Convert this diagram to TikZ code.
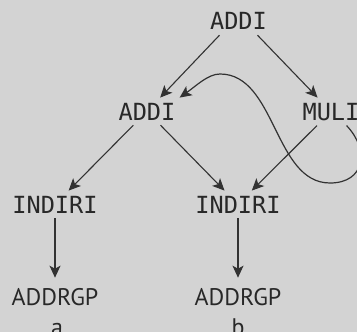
\documentclass[tikz,border=0pt]{standalone}
\usepackage{fontspec}
\newfontfamily\monofont{DejaVu Sans Mono}
\newfontfamily\labfont{PT Sans}
\usetikzlibrary{arrows.meta}
\definecolor{bg}{RGB}{211,211,211}
\definecolor{ink}{RGB}{40,40,40}
\definecolor{edge}{RGB}{50,50,50}
\tikzset{
  mono/.style={font=\monofont\fontsize{23.6}{26}\selectfont, text=ink, inner xsep=4pt, inner ysep=5pt, anchor=base},
  lab/.style={font=\labfont\fontsize{24}{26}\selectfont, text=ink, inner xsep=4pt, inner ysep=10pt, anchor=base},
  small/.style={font=\labfont\fontsize{24}{26}\selectfont, text=ink, inner sep=0pt, anchor=base},
  arr/.style={draw=edge, line width=1.1pt, -{Stealth[length=12pt, width=11pt, inset=3pt]}},
}
\begin{document}
\begin{tikzpicture}[x=1pt,y=1pt]
\fill[bg] (0,0) rectangle (357,-332);
\useasboundingbox (0,0) rectangle (357,-332);
\clip (0,0) rectangle (357,-332);
\node[mono] (a0) at (238.5,-30) {ADDI};
\node[mono] (a1) at (147,-120) {ADDI};
\node[mono] (m1) at (331,-120) {MULI};
\node[mono] (i1) at (55,-213) {INDIRI};
\node[mono] (i2) at (238,-213) {INDIRI};
\node[lab] (g1) at (55,-305) {ADDRGP};
\node[lab] (g2) at (238,-305) {ADDRGP};
\node[small] (la) at (57,-335) {a};
\node[small] (lb) at (238,-335) {b};
\draw[arr] (a0.-144) -- (a1);
\draw[arr] (a0.-36) -- (m1);
\draw[arr] (a1) -- (i1);
\draw[arr] (a1) -- (i2);
\draw[arr] (m1) -- (i2);
\draw[arr] (i1) -- (g1);
\draw[arr] (i2) -- (g2);
\draw[arr, line width=1.2pt] (m1.-42) .. controls (370,-150) and (365,-183) .. (330,-183)
  .. controls (274,-183) and (276,-74) .. (220,-74)
  .. controls (208,-74) and (196,-86) .. (a1.north east);
\end{tikzpicture}
\end{document}
